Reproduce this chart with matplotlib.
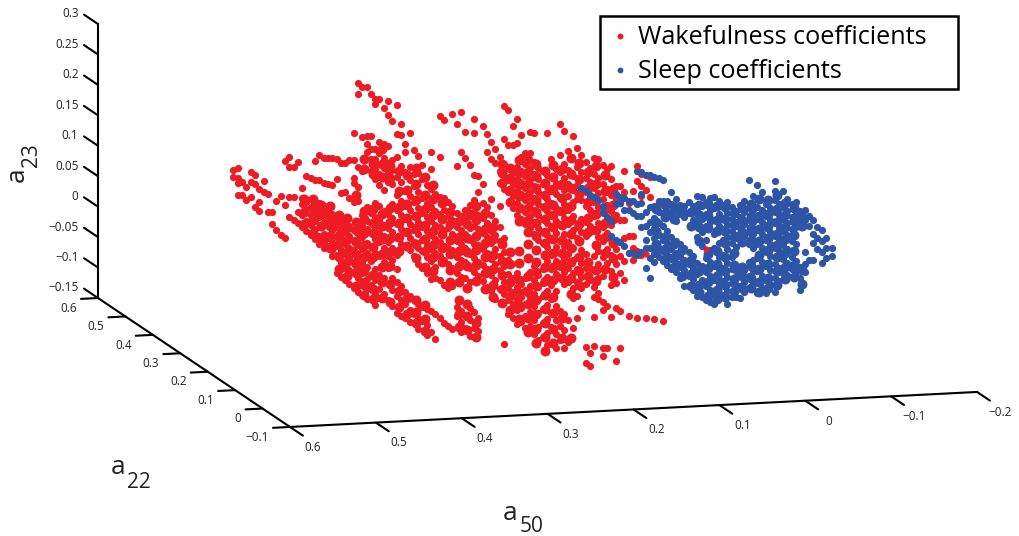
# -*- coding: utf-8 -*-

import numpy as np
import matplotlib
matplotlib.use('Agg')
import matplotlib.pyplot as plt
from matplotlib.lines import Line2D
from matplotlib.patches import Rectangle
from mpl_toolkits.mplot3d import proj3d

plt.rcParams['font.family'] = ['Open Sans', 'DejaVu Sans']

# a22 can't be read from one projection, so both clouds sit at one depth
cloud_a22 = 0.2

red_a50 = [0.57, 0.565, 0.56, 0.555, 0.55, 0.545, 0.54, 0.535, 0.53, 0.525,
           0.52, 0.515, 0.51, 0.505, 0.50, 0.495, 0.49, 0.485, 0.48, 0.475,
           0.47, 0.465, 0.46, 0.455, 0.45, 0.445, 0.44, 0.435, 0.43, 0.425,
           0.42, 0.415, 0.41, 0.405, 0.40, 0.395, 0.39, 0.385, 0.38, 0.375,
           0.37, 0.365, 0.36, 0.355, 0.35, 0.345, 0.34, 0.335, 0.33, 0.325,
           0.32, 0.315, 0.31, 0.305, 0.30, 0.295, 0.29, 0.285, 0.28, 0.275,
           0.27, 0.265, 0.26, 0.255, 0.25, 0.245, 0.24, 0.235, 0.23, 0.225,
           0.22, 0.215, 0.21, 0.205, 0.20, 0.195, 0.19, 0.185, 0.18, 0.175,
           0.17, 0.165, 0.16, 0.155, 0.15, 0.145, 0.14, 0.135, 0.13, 0.125,
           0.12, 0.115, 0.11, 0.105, 0.10, 0.095, 0.09, 0.085, 0.08, 0.075,
           0.07, 0.065]
red_a23 = [
    [.179, .168],
    [.182, .166, .158, .137],
    [.158, .137],
    [.150, .128],
    [.174, .158, .133],
    [.169, .155, .117],
    [.146, .125, .110],
    [.158, .140],
    [.137, .107],
    [.107, .087],
    [.125, .077],
    [.132, .069],
    [.189, .117, .063],
    [.196, .179, .130, .097],
    [.179, .130, .092],
    [.187, .104, .086],
    [.143, .128, .117, .100, .079],
    [.163, .120, .109, .089, .073],
    [.159, .112, .099, .082, .066],
    [.187, .156, .117, .104, .089, .076, .059],
    [.196, .155, .118, .105, .095, .063, .050],
    [.191, .151, .112, .102, .086, .066, .053, .043],
    [.191, .148, .105, .092, .059, .046],
    [.191, .146, .099, .087, .073, .053, .040, .030],
    [.189, .156, .090, .077, .061, .045, .031, .002],
    [.181, .133, .087, .074, .054, .038, .018, -.005],
    [.181, .133, .081, .068, .049, .031, .008, -.011],
    [.186, .123, .077, .061, .041, .025, .005, -.018],
    [.230, .186, .156, .148, .117, .071, .054, .038, .018, .002, -.024],
    [.312, .294, .174, .140, .117, .081, .064, .045, .025, .008, -.008, -.031],
    [.305, .222, .166, .094, .077, .058, .038, .015, -.001, -.014, -.037],
    [.304, .223, .210, .197, .107, .084, .071, .048, .031, .008, -.011, -.028, -.044],
    [.292, .223, .202, .186, .166, .097, .081, .064, .041, .018, -.005, -.021],
    [.284, .276, .202, .186, .169, .153, .113, .090, .074, .054, .031, .005, -.014, -.037, -.054],
    [.284, .213, .194, .177, .161, .143, .107, .084, .064, .048, .025, -.005, -.028, -.044],
    [.269, .210, .186, .169, .153, .133, .100, .077, .058, .038, .015, -.011, -.037],
    [.279, .256, .205, .177, .161, .146, .094, .071, .048, .025, .005, -.047],
    [.246, .182, .166, .143, .110, .087, .064, .038, .018, -.011, -.031, -.057],
    [.272, .225, .186, .154, .125, .099, .076, .053, .026, .003, -.019, -.042, -.069],
    [.240, .222, .172, .145, .115, .092, .069, .043, -.026, -.049, -.075],
    [.208, .194, .161, .131, .105, .085, .063, .040, -.036, -.056, -.079],
    [.225, .169, .148, .122, .099, .076, .053, .033, -.042, -.065, -.085],
    [.197, .158, .138, .112, .089, .066, .046, .023, -.049, -.072],
    [.186, .159, .128, .102, .079, .059, .036, .010, -.056, -.079, -.097],
    [.172, .148, .118, .092, .069, .049, .030, .003, -.062, -.085],
    [.138, .108, .085, .063, .040, .020, -.006, -.065, -.092, -.108],
    [.192, .164, .131, .102, .079, .056, .033, .013, -.016, -.069, -.103],
    [.123, .095, .072, .049, .026, .003, -.015, -.075, -.116],
    [.251, .184, .118, .089, .069, .043, .020, -.018, -.082],
    [.243, .115, .095, .063, .036, .013, -.028, -.089],
    [.108, .085, .066, .033, .007, -.033, -.095],
    [.253, .102, .079, .056, .030, .000, -.029, -.100],
    [.236, .167, .090, .067, .044, .018, -.008, -.064, -.080],
    [.256, .189, .084, .061, .038, .012, -.015, -.072, -.090, -.106],
    [.222, .179, .094, .077, .054, .031, .008, -.018, -.079, -.100],
    [.167, .102, .084, .064, .044, .021, -.002, -.024, -.067, -.087, -.113],
    [.243, .220, .151, .110, .090, .067, .038, .015, -.008, -.074, -.100],
    [.148, .123, .084, .061, .035, .008, -.015, -.084, -.106],
    [.230, .135, .104, .080, .054, .028, .002, -.024],
    [.217, .187, .097, .071, .048, .021, -.005, -.034],
    [.204, .176, .110, .084, .058, .038, .012, -.015, -.041],
    [.192, .169, .074, .051, .028, .002, -.024, -.054],
    [.179, .156, .136, .097, .064, .041, .015, -.008, -.038],
    [.261, .207, .166, .146, .126, .044, .021, -.002, -.028, -.047, -.129],
    [.254, .197, .159, .139, .120, .008, -.015, -.038, -.057, -.080],
    [.228, .197, .153, .133, .113, .094, -.021, -.044, -.064, -.087],
    [.239, .199, .161, .141, .121, .102, .082, -.013, -.036, -.056, -.075, -.098],
    [.213, .176, .154, .135, .115, .095, .075, -.033, -.053, -.072, -.095],
    [.182, .164, .144, .125, .105, .090, .085, .066, -.023, -.043, -.066, -.085, -.105],
    [.217, .182, .157, .138, .118, .098, .079, .059, -.013, -.036, -.056, -.079, -.102],
    [.215, .167, .148, .128, .108, .089, .069, .049, -.003, -.026, -.049, -.069, -.092, -.115],
    [.157, .138, .118, .098, .079, .059, .039, -.019, -.039, -.059, -.082, -.105, -.125],
    [.151, .131, .112, .092, .072, .052, .033, -.010, -.033, -.053, -.075, -.098, -.121],
    [.213, .144, .125, .105, .085, .066, .046, .026, .003, -.023, -.046, -.069, -.092, -.115, -.134],
    [.171, .141, .118, .098, .079, .059, .039, .013, -.010, -.036, -.059, -.082, -.105, -.131],
    [.154, .131, .112, .089, .069, .049, .026, .003, -.019, -.046, -.072, -.095, -.118, -.141],
    [.228, .176, .148, .125, .105, .082, .062, .036, .016, -.007, -.026, -.079, -.105, -.128],
    [.215, .161, .138, .118, .095, .072, .046, .026, .007, -.016, -.036, -.085, -.112, -.141],
    [.182, .151, .128, .108, .085, .062, .033, .013, -.010, -.033, -.095, -.131],
    [.207, .141, .118, .098, .075, .052, .023, .003, -.019, -.043, -.060, -.108],
    [.187, .156, .126, .103, .057, .038, .008, -.012, -.034, -.057, -.092],
    [.174, .146, .120, .100, .070, .048, .018, -.002, -.025, -.044, -.077],
    [.162, .136, .113, .090, .064, .041, .011, -.012, -.038, -.141, -.167],
    [.152, .130, .106, .084, .057, -.012, -.031, -.151, -.172],
    [.169, .143, .120, .097, .074, .048, .008, -.015, -.044, -.059, -.092, -.140],
    [.166, .136, .110, .087, .061, .038, .015, -.005, -.028, -.053, -.064],
    [.157, .126, .100, .077, .054, .031, .005, -.026, -.069, -.082, -.144, -.157],
    [.149, .116, .090, .067, .044, .018, -.005, -.075, -.144],
    [.154, .133, .106, .080, .057, .034, .008, -.018, -.041, -.094],
    [.121, .100, .074, .018, -.007, -.039, -.080, -.166],
    [.121, .092, .064, .029, .005, -.023, -.084, -.146],
    [.144, .111, .064, .034, -.003, -.034],
    [.092, .038, .010, -.094],
    [.111, .038, .018, -.002],
    [.152, .128, .013, -.098],
    [.139, .119, .102, .006],
    [.136, .111, -.098],
    [.133, .100],
    [-.100],
    [.090],
    [-.105],
    [.090],
]

# second pass over the dense parts of the wakefulness cloud
red_fill_a50 = [0.4875, 0.4775, 0.4675, 0.4575, 0.4475, 0.4375, 0.4275, 0.4175, 0.4075, 0.3975,
                0.3875, 0.3775, 0.3675, 0.3575, 0.3475, 0.3375, 0.3275, 0.3175, 0.3075, 0.2975,
                0.2875, 0.2775, 0.2675, 0.2575, 0.2475, 0.2375, 0.2275, 0.2175, 0.2075, 0.1975,
                0.1875, 0.1775, 0.1675, 0.1575, 0.1475, 0.1375, 0.1275]
red_fill_a23 = [
    [.125, .105, .084],
    [.125, .109, .092, .069],
    [.115, .099, .079, .058],
    [.112, .095, .079, .063, .043],
    [.097, .081, .064, .048, .028, .008],
    [.090, .074, .054, .035, .018, -.005],
    [.127, .084, .071, .051, .031, .015, -.001, -.021],
    [.186, .169, .100, .087, .064, .045, .025, .002, -.021, -.037],
    [.177, .161, .104, .081, .064, .041, .025, -.005, -.028, -.044],
    [.202, .177, .156, .095, .074, .054, .028, .008, -.018, -.044],
    [.172, .153, .104, .081, .054, .031, .008, -.021, -.051],
    [.164, .131, .105, .079, .056, .033, -.033, -.059],
    [.156, .131, .108, .085, .063, .040, -.046, -.072],
    [.167, .141, .115, .089, .069, .043, .020, -.049, -.069, -.088],
    [.151, .122, .099, .072, .049, .030, .003, -.059, -.082, -.101],
    [.138, .115, .089, .063, .040, .020, -.003],
    [.108, .082, .056, .033, .010],
    [.092, .072, .046, .023, -.003, -.023],
    [.077, .051, .028, .002, -.024, -.054, -.077, -.097],
    [.090, .071, .048, .025, .002, -.034, -.061, -.080, -.103],
    [.100, .077, .051, .028, .002, -.024, -.093, -.116],
    [.087, .061, .038, .015, -.011, -.038],
    [.064, .044, .018, -.005, -.031, -.051],
    [.167, .151, .135, .035, .008, -.015, -.038, -.061],
    [.159, .143, .123, .103, .021, .002, -.028, -.051, -.074],
    [.171, .151, .131, .112, .092, .072, .023, .003, -.026, -.046, -.066, -.089],
    [.171, .151, .131, .112, .092, .072, .052, .033, .010, -.020, -.046, -.066, -.089, -.112],
    [.164, .144, .125, .105, .085, .066, .046, .023, .003, -.013, -.036, -.059, -.082, -.108, -.131],
    [.151, .131, .112, .092, .072, .052, .033, .013, -.007, -.029, -.052, -.075, -.098, -.121, -.144],
    [.161, .141, .121, .095, .079, .059, .039, .016, -.007, -.029, -.056, -.082, -.108, -.131],
    [.154, .128, .105, .085, .062, .036, .016, -.003, -.026, -.092, -.125],
    [.171, .144, .121, .092, .069, .046, .023, .000, -.026, -.052, -.125],
    [.162, .136, .110, .061, .034, .008, -.015, -.038],
    [.146, .120, .097, .070, .048, -.002, -.025],
    [.156, .126, .100, .077, .051, .025, -.015, -.034],
    [.139, .113, .084, .061, .038, .011, -.015],
    [.116, .090, .067, .028, .002, -.028],
]

blue_a50 = [0.165, 0.16, 0.155, 0.15, 0.145, 0.14, 0.135, 0.13, 0.125, 0.12,
            0.115, 0.11, 0.105, 0.10, 0.095, 0.09, 0.085, 0.08, 0.075, 0.07,
            0.065, 0.06, 0.055, 0.05, 0.045, 0.04, 0.035, 0.03, 0.025, 0.02,
            0.015, 0.01, 0.005, 0.0, -0.005, -0.01, -0.015, -0.02, -0.025, -0.03,
            -0.035, -0.04, -0.045, -0.05, -0.055, -0.06, -0.065, -0.07, -0.075, -0.08,
            -0.085, -0.09, -0.095, -0.10, -0.105, -0.11, -0.115, -0.12, -0.127]
blue_a23 = [
    [.121],
    [.116],
    [.108],
    [.105],
    [.100],
    [.089, .079],
    [.070],
    [.064, .039],
    [.107, .092, .032],
    [.103, .092, .029],
    [.100, .080, .021],
    [.095, .080, .010],
    [.095, .075, .010],
    [.144, .090, .070, .005],
    [.141, .106, .090, .070, .052, .010],
    [.136, .075, .052, .029, .016, -.017],
    [.136, .084, .059, .043, .016, .000, -.033],
    [.133, .085, .065, .049, .033, .006, -.007],
    [.131, .092, .075, .056, .036, .016, .000],
    [.126, .092, .072, .052, .029, .010, -.007],
    [.092, .075, .043, .023, .003, -.013],
    [.106, .087, .070, .033, .013, -.003, -.020],
    [.095, .075, .059, .026, .006, -.010, -.025],
    [.085, .069, .020, .000, -.017, -.036],
    [.082, .065, .013, -.007, -.023, -.049],
    [.088, .070, .006, -.013, -.033, -.049],
    [.082, .059, .000, -.020, -.039, -.056],
    [.097, .074, .054, .031, -.012, -.031, -.051, -.067],
    [.095, .080, .060, .038, .015, -.018, -.041, -.069],
    [.087, .067, .047, .024, -.005, -.028, -.051, -.074],
    [.093, .074, .054, .008, -.012, -.035, -.058, -.077],
    [.095, .077, .057, .034, .011, -.018, -.041, -.064, -.081],
    [.087, .067, .047, .018, -.005, -.025, -.048, -.071],
    [.080, .060, .041, .024, -.001, -.022, -.044, -.067],
    [.085, .067, .047, .028, .008, -.015, -.038, -.061, -.082],
    [.077, .057, .038, .018, -.005, -.025, -.048, -.071],
    [.070, .051, .031, .011, -.028, -.051, -.071],
    [.080, .060, .041, .021, -.035, -.054, -.074],
    [.085, .067, .047, .028, -.028, -.048, -.064],
    [.120, .074, .054, .034, .015, -.015, -.038, -.058],
    [.093, .070, .051, .031, .008, -.012, -.031, -.051],
    [.111, .075, .055, .036, .013, -.010, -.030, -.049, -.066],
    [.098, .069, .049, .029, .006, -.017, -.040, -.059],
    [.078, .059, .039, .019, .000, -.023, -.046, -.068],
    [.072, .052, .033, .013, -.007, -.030, -.053],
    [.115, .100, .085, .065, .046, .026, .006, -.020, -.043, -.066],
    [.078, .059, .039, .019, .000, -.027, -.049],
    [.098, .072, .052, .033, .010, -.013, -.036],
    [.085, .065, .046, .026, .003, -.020, -.040],
    [.077, .055, .036, .016, -.010, -.030],
    [.080, .059, .039, .010, -.017, -.036],
    [.065, .046, -.027, -.046, -.066],
    [.065, .049, -.004, -.023, -.036],
    [.055, .039, -.017],
    [.049, .026, .010, -.017],
    [.036, .018, .001],
    [.031, .014, -.005, -.023],
    [.018, .001, -.015],
    [.001, -.012],
]

# second pass over the solid part of the sleep cloud
blue_fill_a50 = [0.0775, 0.0675, 0.0575, 0.0475, 0.0375, 0.0275, 0.0175, 0.0075, -0.0025,
                 -0.0125, -0.0225, -0.0325, -0.0425, -0.0525, -0.0625, -0.0725, -0.0825, -0.0925]
blue_fill_a23 = [
    [.079, .059, .043, .023, .010],
    [.085, .065, .033, .013, -.003],
    [.082, .062, .020, .000, -.017],
    [.075, .010, -.013, -.033],
    [.072, .049, -.007, -.030, -.049],
    [.083, .067, .047, .024, -.025, -.048, -.061],
    [.083, .064, .044, .001, -.022, -.044, -.067],
    [.080, .057, .038, .005, -.015, -.035, -.058, -.074],
    [.077, .057, .038, .018, -.005, -.028, -.051, -.071],
    [.067, .047, .028, .001, -.018, -.041, -.061],
    [.074, .054, .034, .018, -.022, -.038, -.058],
    [.080, .060, .041, .021, -.022, -.041, -.058],
    [.088, .059, .039, .019, -.004, -.027, -.049, -.066],
    [.085, .062, .042, .023, .003, -.020, -.043, -.059],
    [.092, .069, .049, .029, .010, -.010, -.033, -.056],
    [.078, .059, .039, .019, -.004, -.027, -.046],
    [.069, .049, .026, .000, -.023, -.043],
    [.055, .039, -.033, -.056],
]

# the few red dots that show on top of the blue cloud
red_top_a50 = [0.02, 0.09, 0.10]
red_top_a23 = [0.010, 0.006, 0.152]

a50_ticks = [0.6, 0.5, 0.4, 0.3, 0.2, 0.1, 0, -0.1, -0.2]
a50_labels = ['0.6', '0.5', '0.4', '0.3', '0.2', '0.1', '0', '\u22120.1', '\u22120.2']
a22_ticks = [-0.1, 0, 0.1, 0.2, 0.3, 0.4, 0.5, 0.6]
a22_labels = ['\u22120.1', '0', '0.1', '0.2', '0.3', '0.4', '0.5', '0.6']
a23_ticks = [-0.15, -0.1, -0.05, 0, 0.05, 0.1, 0.15, 0.2, 0.25, 0.3]
a23_labels = ['\u22120.15', '\u22120.1', '\u22120.05', '0', '0.05', '0.1', '0.15', '0.2', '0.25', '0.3']
legend_labels = ['Wakefulness coefficients', 'Sleep coefficients']

red = '#ed1c24'
blue = '#2e55a5'
text_col = '#222222'
W, H = 1019, 536


def flatten(a50, a23):
    xs = []
    zs = []
    for x, col in zip(a50, a23, strict=True):
        for z in col:
            xs.append(x)
            zs.append(z)
    return np.array(xs), np.array(zs)


def draw_cloud(a50, a23, col, size, order):
    xs, zs = flatten(a50, a23)
    ax.plot(xs, np.full(len(xs), cloud_a22), zs, 'o', color=col, ms=size, mew=0, zorder=order)


def label3d(x, y, z, s, **kw):
    # project first so the text keeps a plain 2D position
    px, py, _ = proj3d.proj_transform(x, y, z, ax.get_proj())
    ax.text2D(px, py, s, transform=ax.transData, fontsize=8.5, va='center', color=text_col, **kw)


fig = plt.figure(figsize=(W / 100, H / 100), dpi=100)
ax = fig.add_subplot(111, projection='3d', proj_type='ortho')
ax.set_position([12.7 / W, -196.8 / H, 1022 / W, 1022 / H])
ax.set_axis_off()
ax.patch.set_alpha(0)

# fill passes get a bigger dot so the dense parts close up
draw_cloud(red_a50, red_a23, red, 5.2, 2)
draw_cloud(red_fill_a50, red_fill_a23, red, 7.2, 2)
draw_cloud(blue_a50, blue_a23, blue, 5.2, 3)
draw_cloud(blue_fill_a50, blue_fill_a23, blue, 7.2, 3)
ax.plot(red_top_a50, [cloud_a22] * 3, red_top_a23, 'o', color=red, ms=4.5, mew=0, zorder=4)

# MATLAB style box edges and ticks
line = dict(color='k', lw=1.5, solid_capstyle='round', zorder=1)
ax.plot([0.6, -0.2], [-0.1, -0.1], [-0.15, -0.15], **line)
ax.plot([0.6, 0.6], [-0.1, 0.6], [-0.15, -0.15], **line)
ax.plot([0.6, 0.6], [0.6, 0.6], [-0.15, 0.3], **line)

for v in a50_ticks:
    ax.plot([v, v], [-0.1, -0.147], [-0.15, -0.15], **line)
for v in a22_ticks:
    ax.plot([0.6, 0.6198], [v, v], [-0.15, -0.15], **line)
for v in a23_ticks:
    ax.plot([0.6, 0.6], [0.6, 0.651], [v, v], **line)

ax.set_xticks([])
ax.set_yticks([])
ax.set_zticks([])
ax.set_box_aspect((712.6, 723, 278.8))
ax.view_init(elev=10.66, azim=-105.4)
ax.set_xlim(0.6, -0.2)
ax.set_ylim(-0.1, 0.6)
ax.set_zlim(-0.15, 0.3)

for v, s in zip(a50_ticks, a50_labels):
    label3d(v, -0.184, -0.158, s, ha='center')
for v, s in zip(a22_ticks, a22_labels):
    label3d(0.6245, v, -0.165, s, ha='right')
for v, s in zip(a23_ticks, a23_labels):
    label3d(0.6, 0.671, v - 0.005, s, ha='right')

# axis names
fig.text(17 / W, 1 - 175 / H, 'a', fontsize=19, rotation=90, ha='center', va='center', color=text_col)
fig.text(32 / W, 1 - 155 / H, '23', fontsize=15, rotation=90, ha='center', va='center', color=text_col)
fig.text(118 / W, 1 - 467 / H, 'a', fontsize=19, ha='center', va='center', color=text_col)
fig.text(139 / W, 1 - 482 / H, '22', fontsize=15, ha='center', va='center', color=text_col)
fig.text(510 / W, 1 - 513 / H, 'a', fontsize=19, ha='center', va='center', color=text_col)
fig.text(532 / W, 1 - 527 / H, '50', fontsize=15, ha='center', va='center', color=text_col)

# legend box, sized by hand because its right margin is wider than the left
fig.add_artist(Rectangle((600 / W, 1 - 89 / H), 358 / W, 73 / H, transform=fig.transFigure,
                         facecolor='white', edgecolor='k', lw=1.8))
for yp, col, s in zip([36, 70], [red, blue], legend_labels):
    fig.add_artist(Line2D([620 / W], [1 - yp / H], ls='', marker='o', color=col, ms=4.2, mew=0,
                          transform=fig.transFigure))
    fig.text(638 / W, 1 - (yp + 1) / H, s, fontsize=18.2, ha='left', va='center', color='k')

plt.savefig('out.png', dpi=100)
